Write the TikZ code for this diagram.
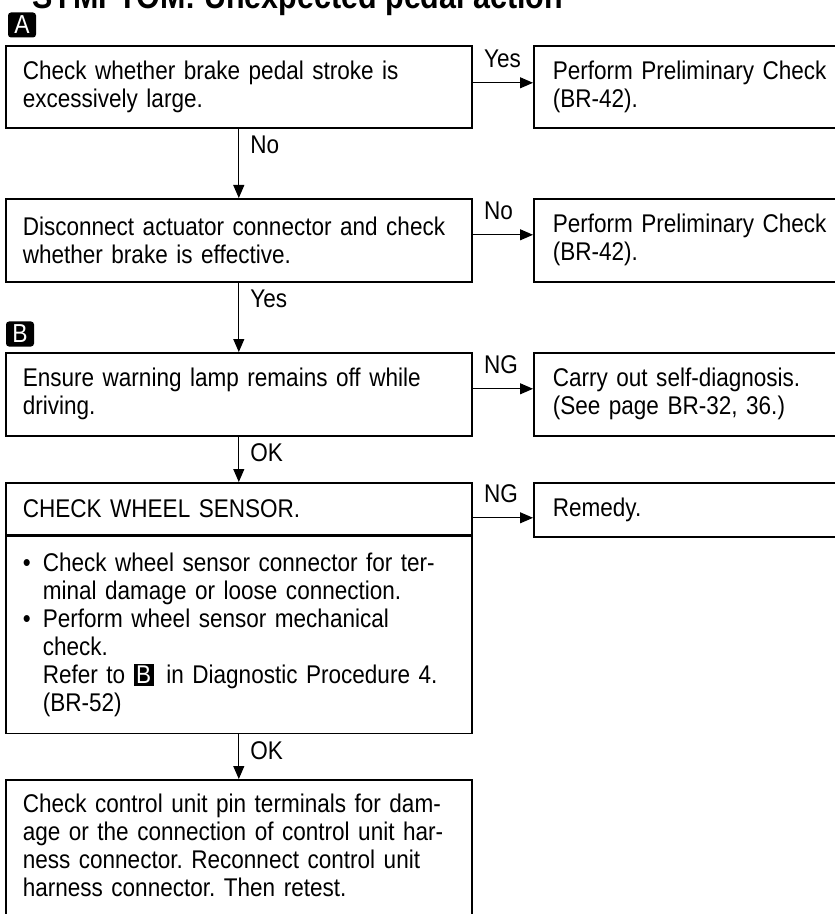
\documentclass[tikz,border=0pt]{standalone}
\usepackage{fontspec}
\setmainfont{Liberation Sans}[FakeStretch=0.88]
\frenchspacing
\usetikzlibrary{arrows.meta}
\tikzset{chk/.style={draw, line width=0.8pt, anchor=north west, minimum width=233pt, text width=216pt, inner xsep=8.5pt, align=left, font=\fontsize{12.8}{14}\selectfont}}
\tikzset{res/.style={draw, line width=0.8pt, anchor=north west, minimum width=170pt, text width=151pt, inner xsep=9.5pt, align=left, font=\fontsize{12.8}{14}\selectfont}}
\tikzset{lbl/.style={inner sep=0pt, font=\fontsize{12.8}{14}\selectfont}}
\tikzset{tag/.style={fill=black, text=white, rounded corners=1.5pt, minimum width=14pt, minimum height=12.5pt, inner sep=0pt, font=\fontsize{13}{13}\selectfont}}
\tikzset{flow/.style={line width=0.5pt, -{Triangle[length=6.5pt, width=5.5pt]}}}
\newcommand{\keybox}[1]{{\setlength{\fboxsep}{1.2pt}\colorbox{black}{\textcolor{white}{#1}}}}
\newcommand{\itm}{\makebox[10pt][l]{\textbullet}}
\newcommand{\indt}{\hspace*{10pt}}

\begin{document}
\begin{tikzpicture}[x=0.5pt, y=-0.5pt]
                    \useasboundingbox (0,0) rectangle (834,914);

                    \node[anchor=base west, inner sep=0pt, font=\fontsize{17.3}{20}\selectfont\bfseries] (ttl) at (32,9) {SYMPTOM: Unexpected pedal action};
                    \node[tag] (tagA) at (22,25) {A};
                    \node[tag] (tagB) at (20,334) {B};

                    \node[chk, minimum height=41pt] (q1) at (5,45) {Check whether brake pedal stroke is\\excessively large.};
                    \node[res, minimum height=41pt] (r1) at (533,45) {Perform Preliminary Check\\(BR-42).};

                    \node[chk, minimum height=41.5pt] (q2) at (5,198) {Disconnect actuator connector and check\\whether brake is effective.};
                    \node[res, minimum height=41.5pt] (r2) at (533,198) {Perform Preliminary Check\\(BR-42).};

                    \node[chk, minimum height=41.5pt] (q3) at (5,352) {Ensure warning lamp remains off while\\driving.};
                    \node[res, minimum height=41.5pt] (r3) at (533,352) {Carry out self-diagnosis.\\(See page BR-32, 36.)};

                    \node[chk, minimum height=26pt] (hdr) at (5,482) {CHECK WHEEL SENSOR.};
                    \node[chk, minimum height=98.5pt] (body) at (hdr.south west) {\itm Check wheel sensor connector for ter-\\\indt minal damage or loose connection.\\\itm Perform wheel sensor mechanical\\\indt check.\\\indt Refer to \keybox{B}\ \,in Diagnostic Procedure 4.\\\indt (BR-52)};
                    \node[res, minimum height=27pt] (r4) at (533,482) {Remedy.};

                    \node[chk, inner ysep=7pt, text depth=100pt] (fin) at (5,779) {Check control unit pin terminals for dam-\\age or the connection of control unit har-\\ness connector. Reconnect control unit\\harness connector. Then retest.};

                    \draw[flow] ([yshift=2pt]q1.east) -- node[lbl, pos=0, anchor=south west, xshift=5.5pt, yshift=7.5pt] {Yes} ([yshift=2pt]q1.east -| r1.west);
                    \draw[flow] ([yshift=2.75pt]q2.east) -- node[lbl, pos=0, anchor=south west, xshift=5.5pt, yshift=7.5pt] {No} ([yshift=2.75pt]q2.east -| r2.west);
                    \draw[flow] ([yshift=2.75pt]q3.east) -- node[lbl, pos=0, anchor=south west, xshift=5.5pt, yshift=7.5pt] {NG} ([yshift=2.75pt]q3.east -| r3.west);
                    \draw[flow] ([yshift=-4.5pt]hdr.east) -- node[lbl, pos=0, anchor=south west, xshift=5.5pt, yshift=7.5pt] {NG} ([yshift=-4.5pt]hdr.east -| r4.west);

                    \draw[flow] (q1.south) -- node[lbl, pos=0, anchor=north west, xshift=5.5pt, yshift=-3.5pt] {No} (q2.north);
                    \draw[flow] (q2.south) -- node[lbl, pos=0, anchor=north west, xshift=5.5pt, yshift=-3.5pt] {Yes} (q3.north);
                    \draw[flow] (q3.south) -- node[lbl, pos=0, anchor=north west, xshift=5.5pt, yshift=-3.5pt] {OK} (hdr.north);
                    \draw[flow] (body.south) -- node[lbl, pos=0, anchor=north west, xshift=5.5pt, yshift=-3.5pt] {OK} (fin.north);

\end{tikzpicture}
\end{document}
